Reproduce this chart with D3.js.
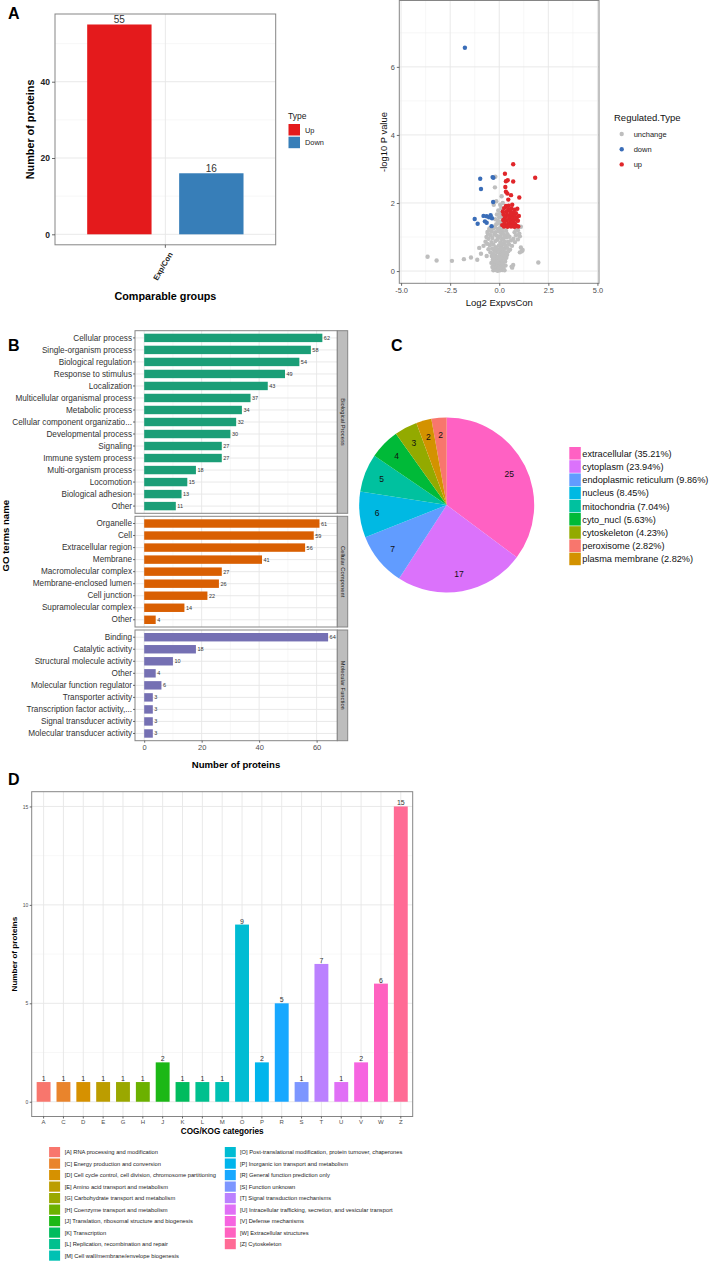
<!DOCTYPE html>
<html><head><meta charset="utf-8">
<script src="https://cdn.jsdelivr.net/npm/d3@7"></script>
<style>body{margin:0;background:#fff}svg{display:block;font-family:"Liberation Sans",Arial,Helvetica,sans-serif}</style>
</head><body><svg id="c" width="709" height="1261"></svg>
<script>
// ---------------- DATA ----------------
const groupCategories = ["Exp/Con"];
const typeNames = ["Up", "Down"];
const typeCounts = [55, 16];
const typeColors = ["#E41A1C", "#377EB8"];

const volcanoTypes = ["unchange", "down", "up"];
const volcanoColors = ["#BEBEBE", "#3A6DB8", "#E0262A"];
const volcanoUp = [[0.71,3.14],[1.83,2.74],[0.29,2.86],[0.43,2.67],[0.71,2.63],[0.34,2.64],[0.31,2.47],[0.34,2.33],[0.41,2.28],[0.6,2.23],[1.02,2.16],[0.46,2.1],[0.34,1.91],
[0.25,1.85],[0.45,1.82],[0.62,1.84],[0.78,1.80],[0.92,1.83],[0.18,1.75],[0.35,1.74],[0.55,1.76],[0.70,1.72],[0.85,1.70],[1.0,1.62],[0.22,1.66],[0.40,1.65],[0.60,1.64],[0.75,1.62],[0.90,1.58],[0.30,1.58],[0.50,1.56],[0.66,1.55],[0.82,1.52],[0.20,1.50],[0.38,1.49],[0.56,1.47],[0.72,1.46],[0.95,1.48],[0.27,1.42],[0.46,1.40],[0.63,1.41],[0.80,1.39],[0.15,1.35],[0.34,1.33],[0.52,1.34],[0.70,1.32],[0.88,1.33],[0.24,1.31],[0.42,1.30],[0.60,1.31],[0.78,1.30],[0.97,1.31],[0.58,1.70],[0.48,1.92],[0.66,1.95]];
const volcanoDown = [[-1.75,6.56],[-0.97,2.71],[-0.34,2.76],[-0.30,2.74],[-0.93,2.41],[-0.31,2.03],[-0.64,1.61],[-0.44,1.64],[-0.37,1.55],[-1.25,1.53],[-1.10,1.39],[-0.73,1.46],[-0.64,1.42],[-0.39,1.32],[-0.80,1.62],[-0.52,1.58]];
const volcanoUnchange = [[-0.30,0.02],[-0.18,0.03],[-0.08,0.01],[0.04,0.02],[0.16,0.03],[0.27,0.02],[-0.24,0.06],[0.10,0.05],[0.22,0.07],[-0.12,0.08],
[-0.35,0.12],[-0.22,0.14],[-0.05,0.11],[0.08,0.15],[0.20,0.12],[0.32,0.16],[-0.15,0.19],[0.02,0.20],[0.14,0.18],[0.63,0.13],[0.71,0.18],[0.66,0.10],
[-0.40,0.24],[-0.28,0.22],[-0.10,0.25],[0.05,0.27],[0.18,0.23],[0.30,0.28],[-0.20,0.29],[0.12,0.30],[1.99,0.25],[-2.41,0.30],[-3.19,0.31],
[-0.33,0.33],[-0.16,0.35],[0.00,0.34],[0.15,0.38],[0.28,0.36],[-0.25,0.40],[0.08,0.40],[0.36,0.39],[-1.80,0.35],[-1.12,0.33],[-1.44,0.40],[-3.65,0.42],
[-0.38,0.44],[-0.20,0.46],[-0.04,0.43],[0.12,0.47],[0.26,0.45],[0.40,0.48],[-0.64,0.44],[-0.30,0.50],[0.03,0.50],[0.20,0.52],
[-0.93,0.51],[-0.45,0.55],[-0.12,0.56],[0.08,0.58],[0.33,0.55],[-0.26,0.60],[0.18,0.61],[0.46,0.58],[1.15,0.58],[1.05,0.55],
[-1.02,0.68],[-0.55,0.64],[-0.36,0.66],[-0.08,0.63],[0.05,0.67],[0.25,0.65],[0.40,0.68],[1.19,0.62],[1.10,0.69],[0.55,0.63],[-0.18,0.70],[0.12,0.72],
[-0.80,0.74],[-0.48,0.76],[-0.30,0.78],[-0.02,0.75],[0.15,0.79],[0.32,0.76],[0.50,0.78],[0.65,0.74],[-0.62,0.80],[0.22,0.82],
[-0.70,0.86],[-0.40,0.85],[-0.20,0.88],[0.06,0.84],[0.28,0.87],[0.45,0.86],[0.80,0.85],[-0.10,0.92],[0.14,0.93],[0.60,0.90],
[-0.55,0.95],[-0.35,0.97],[-0.05,0.98],[0.20,0.96],[0.38,0.99],[0.72,0.95],[0.95,0.93],[-0.65,1.00],[0.05,1.02],[0.52,1.01],
[-0.45,1.05],[-0.25,1.07],[-0.12,1.04],[0.25,1.06],[0.42,1.08],[0.85,1.05],[1.05,1.02],[1.02,1.10],[-0.58,1.10],[0.10,1.11],
[-0.60,1.15],[-0.38,1.16],[-0.20,1.14],[-0.02,1.17],[0.18,1.15],[0.35,1.18],[0.78,1.14],[0.95,1.20],[-0.50,1.21],[0.08,1.22],
[-0.50,1.25],[-0.30,1.26],[-0.10,1.24],[0.05,1.28],[0.22,1.27],[0.85,1.25],[1.10,1.30],[-0.22,1.31],[0.12,1.32],
[-0.15,1.38],[0.02,1.40],[0.14,1.36],[-0.08,1.48],[0.08,1.45],[-0.20,1.52],[0.00,1.58],[0.12,1.60],[-0.12,1.66],[0.05,1.70],[-0.05,1.78],[0.10,1.85],[0.05,1.95],[-0.15,2.05],[0.18,2.00],[-0.22,2.46],[-0.20,2.77],[-0.28,1.95],[0.12,2.20]];

const goFacets = ["Biological Process", "Cellular Component", "Molecular Function"];
const goColors = ["#1B9E77", "#D95F02", "#7570B3"];
const goBPTerms = ["Cellular process","Single-organism process","Biological regulation","Response to stimulus","Localization","Multicellular organismal process","Metabolic process","Cellular component organizatio...","Developmental process","Signaling","Immune system process","Multi-organism process","Locomotion","Biological adhesion","Other"];
const goBPValues = [62,58,54,49,43,37,34,32,30,27,27,18,15,13,11];
const goCCTerms = ["Organelle","Cell","Extracellular region","Membrane","Macromolecular complex","Membrane-enclosed lumen","Cell junction","Supramolecular complex","Other"];
const goCCValues = [61,59,56,41,27,26,22,14,4];
const goMFTerms = ["Binding","Catalytic activity","Structural molecule activity","Other","Molecular function regulator","Transporter activity","Transcription factor activity,...","Signal transducer activity","Molecular transducer activity"];
const goMFValues = [64,18,10,4,6,3,3,3,3];
const goTicks = [0,20,40,60];

const pieNames = ["extracellular","cytoplasm","endoplasmic reticulum","nucleus","mitochondria","cyto_nucl","cytoskeleton","peroxisome","plasma membrane"];
const pieCounts = [25,17,7,6,5,4,3,2,2];
const pieColors = ["#FF61C3","#DB72FB","#619CFF","#00B9E3","#00C19F","#00BA38","#93AA00","#F8766D","#D39200"];
const pieDrawOrder = ["extracellular","cytoplasm","endoplasmic reticulum","nucleus","mitochondria","cyto_nucl","cytoskeleton","plasma membrane","peroxisome"];

const cogCodes = ["A","C","D","E","G","H","J","K","L","M","O","P","R","S","T","U","V","W","Z"];
const cogCounts = [1,1,1,1,1,1,2,1,1,1,9,2,5,1,7,1,2,6,15];
const cogLabels = ["[A] RNA processing and modification","[C] Energy production and conversion","[D] Cell cycle control, cell division, chromosome partitioning","[E] Amino acid transport and metabolism","[G] Carbohydrate transport and metabolism","[H] Coenzyme transport and metabolism","[J] Translation, ribosomal structure and biogenesis","[K] Transcription","[L] Replication, recombination and repair","[M] Cell wall/membrane/envelope biogenesis","[O] Post-translational modification, protein turnover, chaperones","[P] Inorganic ion transport and metabolism","[R] General function prediction only","[S] Function unknown","[T] Signal transduction mechanisms","[U] Intracellular trafficking, secretion, and vesicular transport","[V] Defense mechanisms","[W] Extracellular structures","[Z] Cytoskeleton"];
const cogColors = ["#F8766D","#E9842C","#D69100","#BC9D00","#9AA800","#6BB100","#1CB816","#00BC5E","#00C08E","#00C1B3","#00BCD3","#00B5EC","#17A8FF","#7C96FF","#BB81FF","#E06FF6","#F664E0","#FF62C0","#FF6B95"];
const cogTicks = [0,5,10,15];

// ---------------- HELPERS ----------------
const svg = d3.select("#c");
const FONT = '"Liberation Sans",Arial,Helvetica,sans-serif';
const GRID = "#e6e6e6", GRIDMIN = "#f2f2f2", BORDER = "#858585";
function txt(g, x, y, s, o = {}) {
  const t = g.append("text").attr("x", x).attr("y", y).text(s)
    .attr("font-size", o.size || 8).attr("fill", o.fill || "#000")
    .attr("text-anchor", o.anchor || "start").attr("dominant-baseline", o.base || "central")
    .attr("font-family", FONT);
  if (o.bold) t.attr("font-weight", "bold");
  if (o.rot != null) t.attr("transform", `rotate(${o.rot},${x},${y})`);
  return t;
}
function styleAxis(g, size, fill, bold) {
  g.select(".domain").remove();
  g.selectAll(".tick line").attr("stroke", "#444").attr("stroke-width", 0.8);
  g.selectAll(".tick text").attr("font-size", size).attr("fill", fill).attr("font-family", FONT)
    .attr("font-weight", bold ? "bold" : "normal");
}
function hline(g, x1, x2, y, c, w) { g.append("line").attr("x1", x1).attr("x2", x2).attr("y1", y).attr("y2", y).attr("stroke", c).attr("stroke-width", w); }
function vline(g, x, y1, y2, c, w) { g.append("line").attr("x1", x).attr("x2", x).attr("y1", y1).attr("y2", y2).attr("stroke", c).attr("stroke-width", w); }
function border(g, L, T, R, B) { g.append("rect").attr("x", L).attr("y", T).attr("width", R - L).attr("height", B - T).attr("fill", "none").attr("stroke", BORDER).attr("stroke-width", 1); }

// panel letters
txt(svg, 8, 13, "A", { size: 16, bold: true });
txt(svg, 8, 345, "B", { size: 16, bold: true });
txt(svg, 391, 345, "C", { size: 16, bold: true });
txt(svg, 8, 779, "D", { size: 16, bold: true });

// ---------------- PANEL A: bars ----------------
{
  const L = 55, T = 14, R = 275.7, B = 244.8;
  const g = svg.append("g");
  const y = d3.scaleLinear().domain([-2.75, 57.75]).range([B, T]);
  const x = d3.scaleBand().domain(groupCategories).range([L, R]).paddingOuter(0.1);
  const x0 = x(groupCategories[0]);
  const xs = d3.scaleBand().domain(typeNames).range([x0, x0 + x.bandwidth()]).paddingInner(0.3).paddingOuter(0.15);
  [10, 30, 50].forEach(v => hline(g, L, R, y(v), GRIDMIN, 0.6));
  [0, 20, 40].forEach(v => hline(g, L, R, y(v), GRID, 0.9));
  vline(g, x0 + x.bandwidth() / 2, T, B, GRID, 0.9);
  typeNames.forEach((t, i) => {
    g.append("rect").attr("x", xs(t)).attr("width", xs.bandwidth()).attr("y", y(typeCounts[i])).attr("height", y(0) - y(typeCounts[i])).attr("fill", typeColors[i]);
    txt(g, xs(t) + xs.bandwidth() / 2, y(typeCounts[i]) - 5, typeCounts[i], { size: 10, anchor: "middle", fill: "#333" });
  });
  border(g, L, T, R, B);
  const ya = g.append("g").attr("transform", `translate(${L},0)`).call(d3.axisLeft(y).tickValues([0, 20, 40]).tickSize(3).tickPadding(2));
  styleAxis(ya, 8.5, "#222", true);
  const xa = g.append("g").attr("transform", `translate(0,${B})`).call(d3.axisBottom(x).tickSize(3).tickPadding(1));
  styleAxis(xa, 7.7, "#222", true);
  xa.selectAll(".tick text").attr("text-anchor", "end").attr("dy", 0).attr("dominant-baseline", "central")
    .attr("transform", "translate(2,6) rotate(-60)");
  txt(g, 30, (T + B) / 2, "Number of proteins", { size: 10.8, bold: true, anchor: "middle", rot: -90 });
  txt(g, 165.4, 296, "Comparable groups", { size: 10.8, bold: true, anchor: "middle" });
  // legend
  txt(g, 288, 116, "Type", { size: 8.5, fill: "#222" });
  typeNames.forEach((t, i) => {
    g.append("rect").attr("x", 288.5).attr("y", 124 + i * 12.7).attr("width", 11.5).attr("height", 11.5).attr("fill", typeColors[i]);
    txt(g, 305, 130 + i * 12.7, t, { size: 7.4, fill: "#222" });
  });
}

// ---------------- PANEL A: volcano ----------------
{
  const L = 399.3, T = 0.5, R = 599, B = 283.3;
  const g = svg.append("g");
  const x = d3.scaleLinear().domain([-5.09, 5.08]).range([L, R]);
  const y = d3.scaleLinear().domain([-0.36, 7.95]).range([B, T]);
  [-3.75, -1.25, 1.25, 3.75].forEach(v => vline(g, x(v), T, B, GRIDMIN, 0.6));
  [1, 3, 5, 7].forEach(v => hline(g, L, R, y(v), GRIDMIN, 0.6));
  [-5, -2.5, 0, 2.5, 5].forEach(v => vline(g, x(v), T, B, GRID, 0.9));
  [0, 2, 4, 6].forEach(v => hline(g, L, R, y(v), GRID, 0.9));
  const sets = [volcanoUnchange, volcanoDown, volcanoUp];
  sets.forEach((s, k) => {
    g.append("g").selectAll("circle").data(s).join("circle")
      .attr("cx", d => x(d[0])).attr("cy", d => y(d[1])).attr("r", 2.2).attr("fill", volcanoColors[k]);
  });
  border(g, L, T, R, B);
  const ya = g.append("g").attr("transform", `translate(${L},0)`).call(d3.axisLeft(y).tickValues([0, 2, 4, 6]).tickFormat(d3.format("d")).tickSize(2.5).tickPadding(2));
  styleAxis(ya, 7.4, "#4d4d4d", false);
  const xa = g.append("g").attr("transform", `translate(0,${B})`).call(d3.axisBottom(x).tickValues([-5, -2.5, 0, 2.5, 5]).tickFormat(d => d.toFixed(1)).tickSize(2.5).tickPadding(1.5));
  styleAxis(xa, 7.4, "#4d4d4d", false);
  txt(g, 383, 142, "-log10 P value", { size: 9.4, anchor: "middle", rot: -90, fill: "#111" });
  txt(g, 499.3, 302, "Log2 ExpvsCon", { size: 9.5, anchor: "middle", fill: "#111" });
  txt(g, 614, 117, "Regulated.Type", { size: 9.5, fill: "#111" });
  volcanoTypes.forEach((t, i) => {
    g.append("circle").attr("cx", 621.7).attr("cy", 134 + i * 15.2).attr("r", 2.2).attr("fill", volcanoColors[i]);
    txt(g, 633.7, 134.5 + i * 15.2, t, { size: 7.5, fill: "#222" });
  });
}

// ---------------- PANEL B: GO ----------------
{
  const L = 135, R = 337.3, SR = 347.7;
  const g = svg.append("g");
  const x = d3.scaleLinear().domain([-3.2, 67.2]).range([L, R]);
  const facets = [
    { terms: goBPTerms, vals: goBPValues, T: 330.7, B: 513.3 },
    { terms: goCCTerms, vals: goCCValues, T: 516.3, B: 627 },
    { terms: goMFTerms, vals: goMFValues, T: 630, B: 740.7 }
  ];
  facets.forEach((f, k) => {
    const y = d3.scaleBand().domain(f.terms).range([f.T, f.B]).paddingInner(0.3).paddingOuter(0.25);
    const gp = g.append("g");
    [10, 30, 50].forEach(v => vline(gp, x(v), f.T, f.B, GRIDMIN, 0.6));
    goTicks.forEach(v => vline(gp, x(v), f.T, f.B, GRID, 0.9));
    f.terms.forEach(t => hline(gp, L, R, y(t) + y.bandwidth() / 2, GRID, 0.9));
    f.terms.forEach((t, i) => {
      gp.append("rect").attr("x", x(0)).attr("y", y(t)).attr("width", x(f.vals[i]) - x(0)).attr("height", y.bandwidth()).attr("fill", goColors[k]);
      txt(gp, x(f.vals[i]) + 1.5, y(t) + y.bandwidth() / 2, f.vals[i], { size: 5.5, fill: "#333" });
    });
    border(gp, L, f.T, R, f.B);
    gp.append("rect").attr("x", R).attr("y", f.T).attr("width", SR - R).attr("height", f.B - f.T).attr("fill", "#bdbdbd").attr("stroke", BORDER).attr("stroke-width", 1);
    txt(gp, (R + SR) / 2, (f.T + f.B) / 2, goFacets[k], { size: 5.8, anchor: "middle", rot: 90, fill: "#1a1a1a" });
    const ya = gp.append("g").attr("transform", `translate(${L},0)`).call(d3.axisLeft(y).tickSize(2).tickPadding(1));
    styleAxis(ya, 8.2, "#333", false);
    if (k === 2) {
      const xa = gp.append("g").attr("transform", `translate(0,${f.B})`).call(d3.axisBottom(x).tickValues(goTicks).tickSize(2).tickPadding(1.5));
      styleAxis(xa, 7.5, "#4d4d4d", false);
    }
  });
  txt(g, 236, 764, "Number of proteins", { size: 9.6, bold: true, anchor: "middle" });
  txt(g, 6, 535.7, "GO terms name", { size: 9.6, bold: true, anchor: "middle", rot: -90 });
}

// ---------------- PANEL C: pie ----------------
{
  const cx = 446.7, cy = 505, r = 87.5;
  const g = svg.append("g").attr("transform", `translate(${cx},${cy})`);
  const total = d3.sum(pieCounts);
  const data = pieNames.map((n, i) => ({ n, v: pieCounts[i], c: pieColors[i] }));
  const pie = d3.pie().value(d => d.v).sort((a, b) => pieDrawOrder.indexOf(a.n) - pieDrawOrder.indexOf(b.n));
  const arc = d3.arc().innerRadius(0).outerRadius(r);
  const lab = d3.arc().innerRadius(r * 0.8).outerRadius(r * 0.8);
  const arcs = pie(data);
  g.selectAll("path").data(arcs).join("path").attr("d", arc).attr("fill", d => d.data.c);
  arcs.forEach(a => {
    const [lx, ly] = lab.centroid(a);
    txt(g, lx, ly, a.data.v, { size: 8.5, anchor: "middle", fill: "#111" });
  });
  const lg = svg.append("g");
  data.forEach((d, i) => {
    const yy = 453.3 + i * 13.2;
    lg.append("rect").attr("x", 569.3).attr("y", yy - 6.3).attr("width", 11.5).attr("height", 12.6).attr("fill", d.c);
    txt(lg, 582.3, yy + 0.5, `${d.n} (${(d.v / total * 100).toFixed(2)}%)`, { size: 9.2, fill: "#111" });
  });
}

// ---------------- PANEL D: COG ----------------
{
  const L = 31.7, T = 791.7, R = 412.7, B = 1116.5;
  const g = svg.append("g");
  const x = d3.scaleBand().domain(cogCodes).range([L, R]).paddingInner(0.3).paddingOuter(0.25);
  const y = d3.scaleLinear().domain([-0.75, 15.75]).range([B, T]);
  [2.5, 7.5, 12.5].forEach(v => hline(g, L, R, y(v), GRIDMIN, 0.6));
  cogTicks.forEach(v => hline(g, L, R, y(v), GRID, 0.9));
  cogCodes.forEach(c => vline(g, x(c) + x.bandwidth() / 2, T, B, GRID, 0.9));
  cogCodes.forEach((c, i) => {
    g.append("rect").attr("x", x(c)).attr("width", x.bandwidth()).attr("y", y(cogCounts[i])).attr("height", y(0) - y(cogCounts[i])).attr("fill", cogColors[i]);
    txt(g, x(c) + x.bandwidth() / 2, y(cogCounts[i]) - 3.5, cogCounts[i], { size: 7, anchor: "middle", fill: "#333" });
  });
  border(g, L, T, R, B);
  const ya = g.append("g").attr("transform", `translate(${L},0)`).call(d3.axisLeft(y).tickValues(cogTicks).tickSize(2).tickPadding(1.5));
  styleAxis(ya, 5, "#4d4d4d", false);
  const xa = g.append("g").attr("transform", `translate(0,${B})`).call(d3.axisBottom(x).tickSize(2).tickPadding(1));
  styleAxis(xa, 6, "#4d4d4d", false);
  txt(g, 15, (T + B) / 2, "Number of proteins", { size: 8.1, bold: true, anchor: "middle", rot: -90 });
  txt(g, (L + R) / 2, 1131, "COG/KOG categories", { size: 8.2, bold: true, anchor: "middle" });
  // legend (two columns)
  cogCodes.forEach((c, i) => {
    const col = i < 10 ? 0 : 1, row = i < 10 ? i : i - 10;
    const kx = col === 0 ? 49.1 : 224.8, tx = col === 0 ? 64.7 : 240;
    const yy = 1152 + row * 11.5;
    g.append("rect").attr("x", kx).attr("y", yy - 5).attr("width", 11).attr("height", 10.2).attr("fill", cogColors[i]);
    txt(g, tx, yy + 0.3, cogLabels[i], { size: 5.75, fill: "#222" });
  });
}
</script></body></html>
